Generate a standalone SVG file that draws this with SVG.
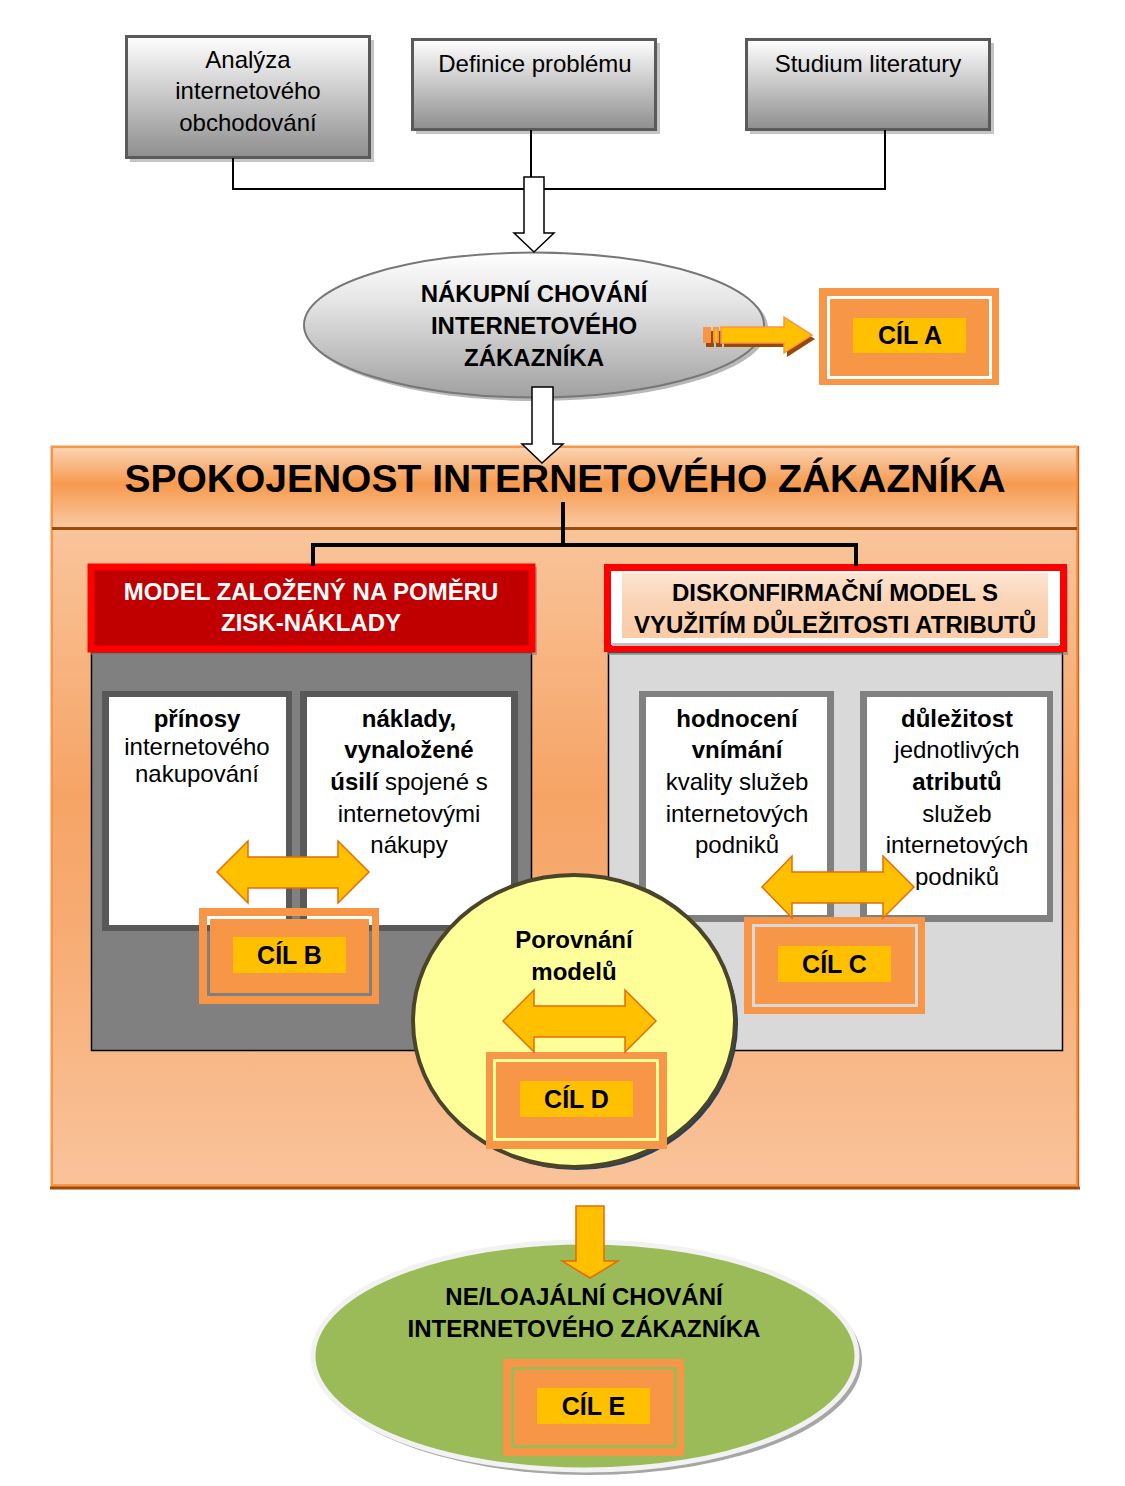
<svg xmlns="http://www.w3.org/2000/svg" width="1125" height="1486" viewBox="0 0 1125 1486">
<defs>
<linearGradient id="gBox" x1="0" y1="0" x2="0" y2="1">
<stop offset="0" stop-color="#FFFFFF"/><stop offset="1" stop-color="#8E8E8E"/>
</linearGradient>
<linearGradient id="gEll" x1="0" y1="0" x2="0" y2="1">
<stop offset="0" stop-color="#FFFFFF"/><stop offset="0.35" stop-color="#E4E4E4"/><stop offset="1" stop-color="#A0A0A0"/>
</linearGradient>
<linearGradient id="gHead" x1="0" y1="0" x2="0" y2="1">
<stop offset="0" stop-color="#FBD3B2"/><stop offset="0.45" stop-color="#F69A4F"/><stop offset="1" stop-color="#FACAA2"/>
</linearGradient>
<linearGradient id="gBody" x1="0" y1="0" x2="0" y2="1">
<stop offset="0" stop-color="#F9C49A"/><stop offset="0.4" stop-color="#F6A466"/><stop offset="0.6" stop-color="#F7AB72"/><stop offset="1" stop-color="#F9C39A"/>
</linearGradient>
<linearGradient id="gPeach" x1="0" y1="0" x2="0" y2="1">
<stop offset="0" stop-color="#FCE4D0"/><stop offset="0.5" stop-color="#FAD2B2"/><stop offset="1" stop-color="#F9CCA8"/>
</linearGradient>
</defs>
<style>
text{font-family:"Liberation Sans",Arial,sans-serif;fill:#000;text-anchor:middle}
.t24{font-size:24px}
.b24{font-size:24px;font-weight:bold}
.cil{font-size:25px;font-weight:bold}
.title{font-size:39px;font-weight:bold}
.wh{fill:#FFFFFF}
.topbox{fill:url(#gBox);stroke:#5A5A5A;stroke-width:3}
.shadow{fill:#C4C4C4}
.frame{fill:#F79646;fill-rule:evenodd}
.inner{fill:#F79646}
.yel{fill:#FFC000}
.dbl{fill:#FFC000;stroke:#E46C0A;stroke-width:1.5;stroke-linejoin:miter}
.hollow{fill:#FFFFFF;stroke:#000;stroke-width:1.5}
.line{fill:none;stroke:#000;stroke-width:2}
.tree{fill:none;stroke:#000;stroke-width:4}
.wbox{fill:#FFFFFF}
</style>

<!-- top boxes -->
<g id="node-analyza">
<rect class="shadow" x="130" y="40" width="244" height="122"/>
<rect class="topbox" x="126.5" y="36.5" width="243" height="121"/>
<text class="t24" x="248" y="68">Analýza</text>
<text class="t24" x="248" y="99">internetového</text>
<text class="t24" x="248" y="131">obchodování</text>
</g>
<g id="node-definice">
<rect class="shadow" x="416" y="43" width="244" height="91"/>
<rect class="topbox" x="412.5" y="39.5" width="243" height="90"/>
<text class="t24" x="535" y="72">Definice problému</text>
</g>
<g id="node-studium">
<rect class="shadow" x="750" y="43" width="244" height="91"/>
<rect class="topbox" x="746.5" y="39.5" width="243" height="90"/>
<text class="t24" x="868" y="72">Studium literatury</text>
</g>

<!-- ellipse 1 -->
<g id="node-nakupni">
<ellipse cx="537" cy="328" rx="231" ry="73" fill="#B8B8B8"/>
<ellipse cx="534" cy="325" rx="230" ry="72.5" fill="url(#gEll)" stroke="#777" stroke-width="2"/>
<text class="b24" x="534" y="302">NÁKUPNÍ CHOVÁNÍ</text>
<text class="b24" x="534" y="334">INTERNETOVÉHO</text>
<text class="b24" x="534" y="366">ZÁKAZNÍKA</text>
</g>

<!-- CIL A -->
<g id="node-cil-a">
<path class="frame" d="M819 288H999V385H819Z M827 296V379H992V296Z"/>
<rect class="inner" x="830" y="299" width="159" height="77"/>
<rect class="yel" x="853" y="318" width="113" height="35"/>
<text class="cil" x="910" y="344">CÍL A</text>
</g>

<!-- big container -->
<g id="node-spokojenost">
<rect x="50.5" y="445.5" width="1028" height="742" fill="#F79646"/>
<rect x="53" y="448" width="1023" height="80" fill="url(#gHead)"/>
<rect x="53" y="530" width="1023" height="654" fill="url(#gBody)"/>
<line x1="52" y1="528.5" x2="1077" y2="528.5" stroke="#9A4A0B" stroke-width="3"/>
<line x1="50" y1="1188" x2="1080" y2="1188" stroke="#9A4A0B" stroke-width="3"/>
<line x1="1078.5" y1="446" x2="1078.5" y2="1188" stroke="#C8651C" stroke-width="1.5"/>
<text class="title" x="565" y="492">SPOKOJENOST INTERNETOVÉHO ZÁKAZNÍKA</text>
</g>

<!-- left model -->
<g id="node-model-zisk">
<rect x="91.5" y="652.5" width="440" height="398" fill="#808080" stroke="#000" stroke-width="1.5"/>
<rect x="91" y="567" width="446" height="88" fill="#7F7F7F" opacity="0.6"/>
<rect x="91" y="567" width="441" height="82" fill="#C00000" stroke="#FF0000" stroke-width="7"/>
<text class="b24 wh" x="311" y="600">MODEL ZALOŽENÝ NA POMĚRU</text>
<text class="b24 wh" x="311" y="631">ZISK-NÁKLADY</text>
</g>
<g id="node-prinosy">
<rect x="102" y="691" width="190" height="240" fill="#595959"/>
<rect class="wbox" x="109" y="697" width="177" height="228"/>
<text class="b24" x="197" y="727">přínosy</text>
<text class="t24" x="197" y="755">internetového</text>
<text class="t24" x="197" y="782">nakupování</text>
</g>
<g id="node-naklady">
<rect x="300" y="691" width="218" height="240" fill="#595959"/>
<rect class="wbox" x="307" y="697" width="204" height="228"/>
<text class="b24" x="409" y="727">náklady,</text>
<text class="b24" x="409" y="758">vynaložené</text>
<text class="t24" x="409" y="790"><tspan font-weight="bold">úsilí</tspan> spojené s</text>
<text class="t24" x="409" y="822">internetovými</text>
<text class="t24" x="409" y="853">nákupy</text>
</g>
<g id="node-cil-b">
<path class="frame" d="M199 908H379V1004H199Z M207 916V996H372V916Z"/>
<rect class="inner" x="210" y="919" width="159" height="74"/>
<rect class="yel" x="233" y="937" width="113" height="36"/>
<text class="cil" x="289.5" y="964">CÍL B</text>
</g>

<!-- right model -->
<g id="node-model-diskonf">
<rect x="608.5" y="652.5" width="454" height="398" fill="#D9D9D9" stroke="#000" stroke-width="1.5"/>
<rect x="607" y="567" width="461" height="88" fill="#7F7F7F" opacity="0.6"/>
<rect x="607.5" y="567.5" width="456" height="81" fill="#FFFFFF" stroke="#FF0000" stroke-width="7"/>
<rect x="612" y="643" width="447" height="3" fill="#BFBFBF"/>
<rect x="622" y="573" width="426" height="65" fill="url(#gPeach)"/>
<text class="b24" x="835" y="601">DISKONFIRMAČNÍ MODEL S</text>
<text class="b24" x="835" y="633">VYUŽITÍM DŮLEŽITOSTI ATRIBUTŮ</text>
</g>
<g id="node-hodnoceni">
<rect x="639" y="691" width="195" height="231" fill="#808080"/>
<rect class="wbox" x="646" y="697" width="181" height="218"/>
<text class="b24" x="737" y="727">hodnocení</text>
<text class="b24" x="737" y="758">vnímání</text>
<text class="t24" x="737" y="790">kvality služeb</text>
<text class="t24" x="737" y="822">internetových</text>
<text class="t24" x="737" y="853">podniků</text>
</g>
<g id="node-dulezitost">
<rect x="860" y="691" width="193" height="231" fill="#808080"/>
<rect class="wbox" x="867" y="697" width="180" height="218"/>
<text class="b24" x="957" y="727">důležitost</text>
<text class="t24" x="957" y="758">jednotlivých</text>
<text class="b24" x="957" y="790">atributů</text>
<text class="t24" x="957" y="822">služeb</text>
<text class="t24" x="957" y="853">internetových</text>
<text class="t24" x="957" y="885">podniků</text>
</g>
<g id="node-cil-c">
<path class="frame" d="M744 917H925V1014H744Z M752 924V1007H918V924Z"/>
<rect class="inner" x="755" y="927" width="160" height="77"/>
<rect class="yel" x="778" y="946" width="113" height="36"/>
<text class="cil" x="834.5" y="973">CÍL C</text>
</g>

<!-- comparison circle -->
<g id="node-porovnani">
<ellipse cx="577" cy="1024" rx="161" ry="146" fill="#254061"/>
<ellipse cx="574" cy="1021" rx="161" ry="146" fill="#FFFF99" stroke="#4A452A" stroke-width="4"/>
<text class="b24" x="574" y="948">Porovnání</text>
<text class="b24" x="574" y="980">modelů</text>
</g>
<g id="node-cil-d">
<path class="frame" d="M486 1052H667V1149H486Z M493 1059V1141H659V1059Z"/>
<rect class="inner" x="496" y="1062" width="160" height="76"/>
<rect class="yel" x="520" y="1081" width="113" height="36"/>
<text class="cil" x="576.5" y="1108">CÍL D</text>
</g>

<!-- green ellipse -->
<g id="node-loajalni">
<ellipse cx="589" cy="1360" rx="273" ry="115" fill="#A6A6A6"/>
<ellipse cx="585" cy="1356" rx="272" ry="114" fill="#9BBB59" stroke="#F2F2F2" stroke-width="5"/>
<text class="b24" x="584" y="1305">NE/LOAJÁLNÍ CHOVÁNÍ</text>
<text class="b24" x="584" y="1337">INTERNETOVÉHO ZÁKAZNÍKA</text>
</g>
<g id="node-cil-e">
<path class="frame" d="M503 1359H684V1456H503Z M511 1367V1448H677V1367Z"/>
<rect class="inner" x="514" y="1370" width="160" height="75"/>
<rect class="yel" x="537" y="1388" width="113" height="36"/>
<text class="cil" x="593.5" y="1415">CÍL E</text>
</g>

<!-- connectors -->
<g id="connectors">
<path class="line" d="M233 158V189H885V130"/>
<path class="line" d="M531 130V177"/>
<polygon class="hollow" points="524,177 544,177 544,233 554,233 534,252 514,233 524,233"/>
<polygon class="hollow" points="532,387 553,387 553,444 563,444 542,463 522,444 532,444"/>
<g id="arrow-a">
<polygon points="724,331 787,331 787,321 815,339 787,357 787,347 724,347" fill="#984807"/>
<rect x="706" y="331" width="8" height="16" fill="#984807"/>
<rect x="716" y="331" width="6" height="16" fill="#984807"/>
<polygon points="721,327 784,327 784,317 812,335 784,353 784,343 721,343" fill="#FFC000" stroke="#F79646" stroke-width="1.5"/>
<rect x="703" y="327" width="8" height="16" fill="#F79646"/>
<rect x="713" y="327" width="6" height="16" fill="#F79646"/>
<rect x="715" y="329" width="2" height="12" fill="#FFC000"/>
</g>
<path class="tree" d="M563 502V545 M313 566V545H856V566"/>
<polygon class="dbl" points="217,872 248,841 248,857 338,857 338,841 369,872 338,903 338,888 248,888 248,903"/>
<polygon class="dbl" points="762,887 792,856 792,872 883,872 883,856 914,887 883,918 883,903 792,903 792,918"/>
<polygon class="dbl" points="503,1021 534,990 534,1006 625,1006 625,990 656,1021 625,1052 625,1037 534,1037 534,1052"/>
<polygon class="dbl" points="576,1206 604,1206 604,1261 618,1261 590,1278 562,1261 576,1261"/>
</g>
</svg>
